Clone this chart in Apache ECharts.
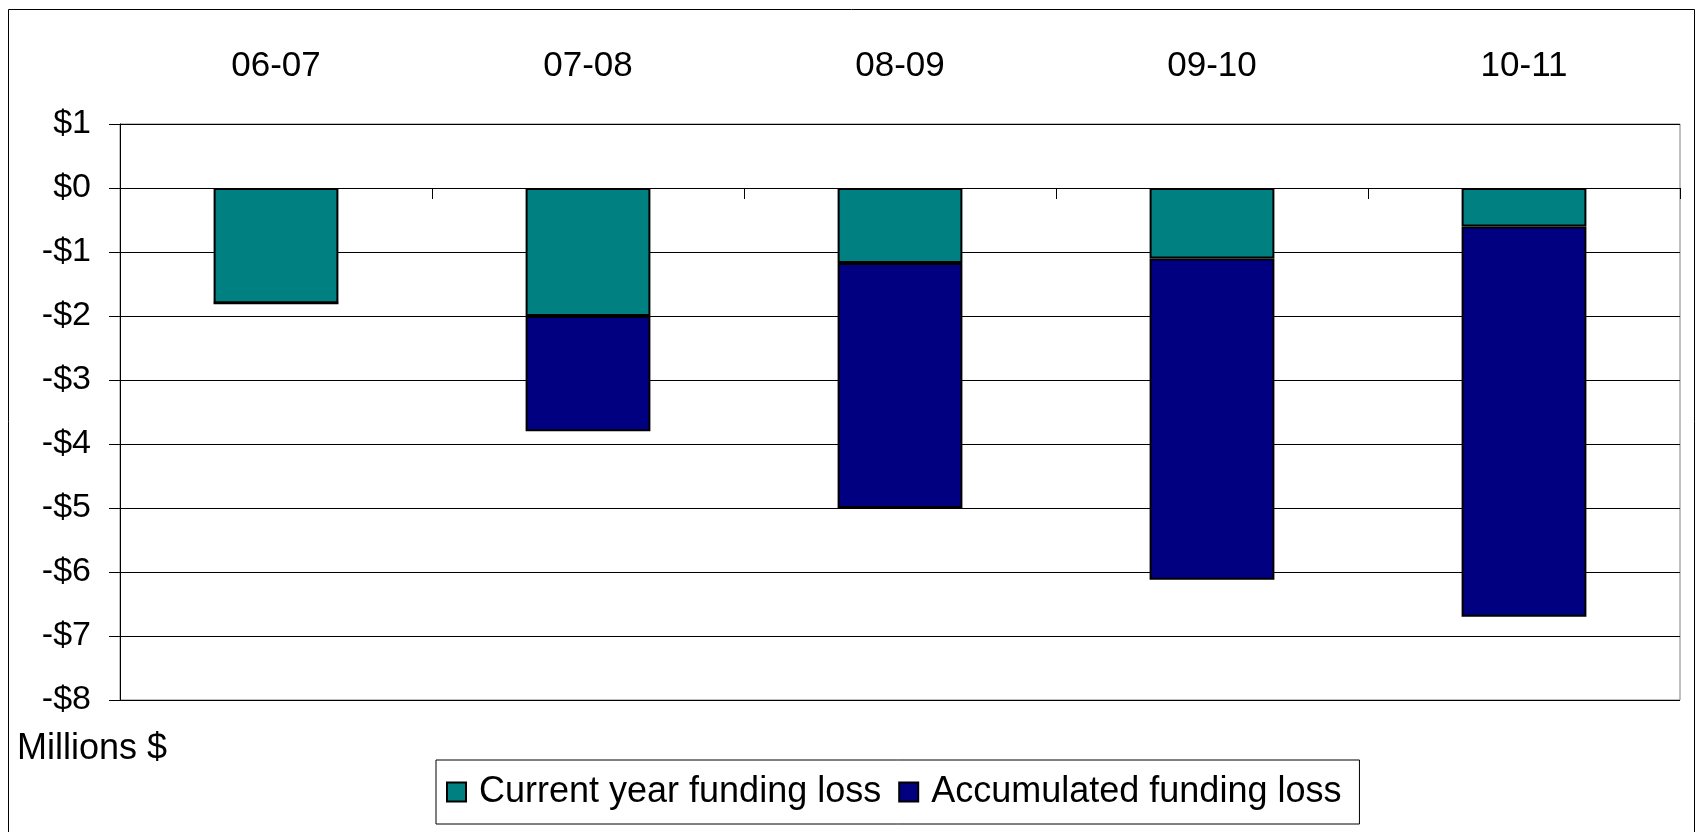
<!DOCTYPE html>
<html>
<head>
<meta charset="utf-8">
<script src="https://cdn.jsdelivr.net/npm/echarts@6/dist/echarts.min.js"></script>
<style>
  html, body { margin: 0; padding: 0; background: #fff; }
  #chart { width: 1696px; height: 832px; }
</style>
</head>
<body>
<div id="chart"></div>
<script>
// Funding loss per fiscal year, millions of dollars
const years = ['06-07', '07-08', '08-09', '09-10', '10-11']
const currentYearLoss = [-1.8, -2.0, -1.17, -1.1, -0.6]
const accumulatedLoss = [0, -1.8, -3.83, -5.02, -6.1]

const font = '"Liberation Sans", Arial, sans-serif'

const money = (v) => (v < 0 ? '-$' + (-v) : '$' + v)

const chart = echarts.init(document.getElementById('chart'))

chart.setOption({
  animation: false,
  textStyle: { fontFamily: font, color: '#000' },
  graphic: [{
    type: 'rect',
    shape: { x: 8.5, y: 9.5, width: 1686, height: 860 },
    style: { fill: 'none', stroke: '#000', lineWidth: 1 },
    silent: true
  }, {
    type: 'text',
    left: 17,
    top: 731,
    style: { text: 'Millions $', font: '36px ' + font, fill: '#000' }
  }],
  grid: {
    left: 120,
    right: 16,
    top: 124,
    bottom: 132,
    show: true,
    borderColor: '#808080',
    borderWidth: 1
  },
  legend: {
    bottom: 8,
    left: 436,
    icon: 'rect',
    itemWidth: 19,
    itemHeight: 19,
    itemGap: 17,
    padding: [14, 18, 14, 10],
    borderColor: '#000',
    borderWidth: 1,
    textStyle: { fontSize: 36, fontFamily: font, color: '#000', padding: [0, 0, 0, 8] },
    data: ['Current year funding loss', 'Accumulated funding loss']
  },
  xAxis: [{
    type: 'category',
    data: years,
    position: 'bottom',
    axisLine: { onZero: true, lineStyle: { color: '#000', width: 1 } },
    axisTick: { show: true, length: 11, lineStyle: { color: '#000' } },
    axisLabel: { show: false }
  }, {
    type: 'category',
    data: years,
    position: 'top',
    axisLine: { show: false },
    axisTick: { show: false },
    axisLabel: { fontSize: 35, color: '#000', margin: 40 }
  }],
  yAxis: {
    type: 'value',
    min: -8,
    max: 1,
    interval: 1,
    axisLine: { show: true, lineStyle: { color: '#000' } },
    axisTick: { show: true, length: 11, lineStyle: { color: '#000' } },
    axisLabel: { fontSize: 34, color: '#000', margin: 29, formatter: money },
    splitLine: { lineStyle: { color: '#000', width: 1 } }
  },
  series: [{
    name: 'Current year funding loss',
    type: 'bar',
    stack: 'loss',
    barCategoryGap: '60%',
    data: currentYearLoss,
    itemStyle: { color: '#008080', borderColor: '#000', borderWidth: 2 }
  }, {
    name: 'Accumulated funding loss',
    type: 'bar',
    stack: 'loss',
    barCategoryGap: '60%',
    data: accumulatedLoss,
    itemStyle: { color: '#000080', borderColor: '#000', borderWidth: 2 }
  }]
})
</script>
</body>
</html>
